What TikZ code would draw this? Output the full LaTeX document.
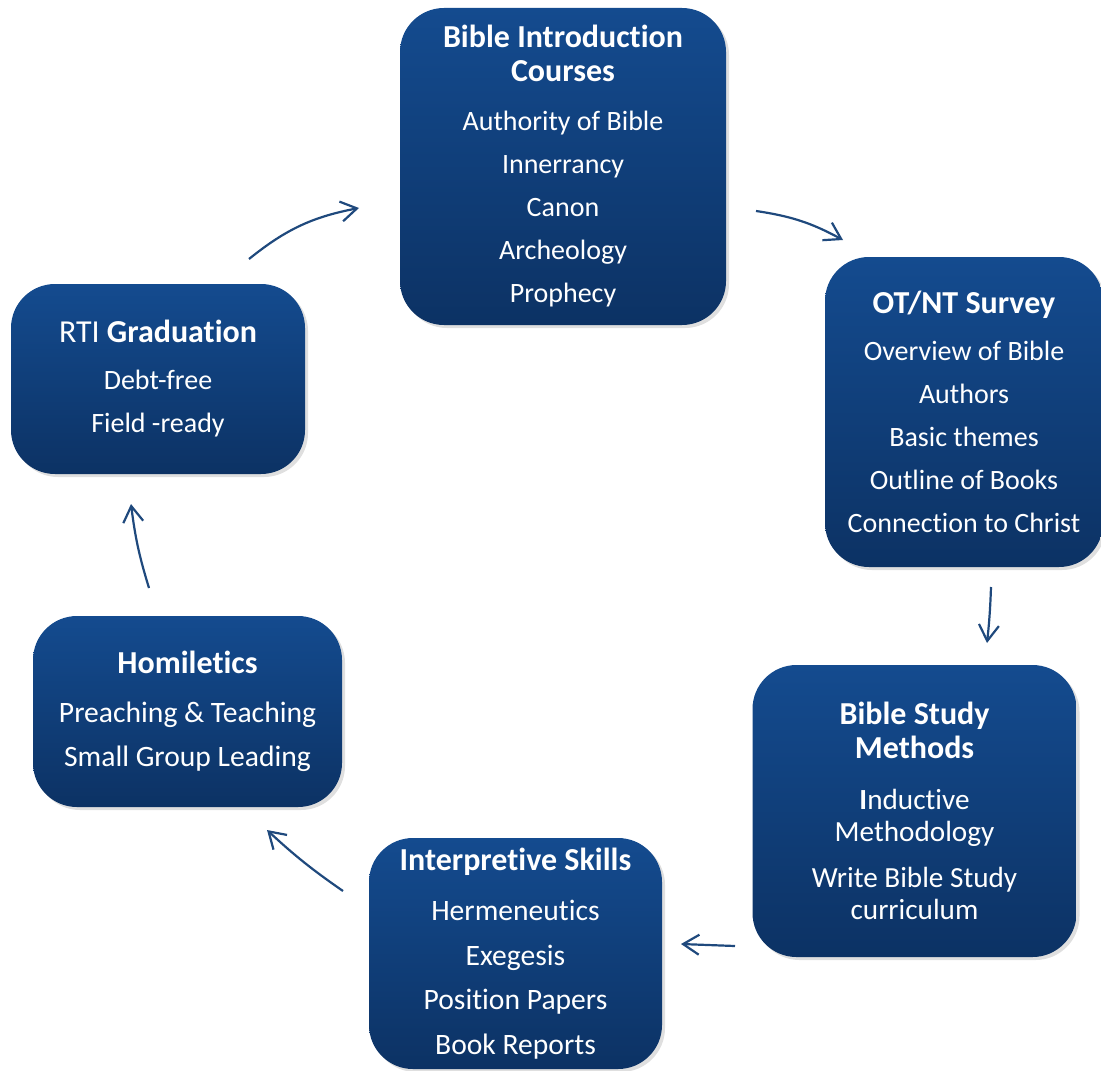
\documentclass[tikz,border=0pt]{standalone}
\usepackage{fontspec}
\setmainfont{Carlito}[RawFeature={-liga;-clig;-calt}]
\usepackage{xcolor}
\usepackage{tikz}
\usetikzlibrary{arrows.meta, shadows, positioning}
\definecolor{boxtop}{RGB}{20,75,143}
\definecolor{boxbottom}{RGB}{12,50,100}
\definecolor{flowblue}{RGB}{31,73,125}
\newcommand{\boxtitle}[1]{{\fontsize{16}{17}\selectfont\bfseries #1}}

\begin{document}
\begin{tikzpicture}[
    x=0.5pt, y=-0.5pt,
    course/.style={rectangle, rounded corners=22pt, top color=boxtop, bottom color=boxbottom,
        draw=none, text=white, align=center, inner sep=0pt,
        font=\fontsize{14}{16}\selectfont,
        drop shadow={opacity=0.25, shadow xshift=1.5pt, shadow yshift=-1.5pt}},
    flow/.style={draw=flowblue, line width=1.1pt, -{Straight Barb[length=8pt,width=10pt]}}
]
\useasboundingbox (0,0) rectangle (1101,1070);

% Nodes
\node (intro) [course, minimum width=163pt, minimum height=158.5pt] at (563,166.5)
    {\boxtitle{Bible Introduction}\\[1pt] \boxtitle{Courses}\\[8.5pt]
     Authority of Bible\\[5.5pt] Innerrancy\\[5.5pt] Canon\\[5.5pt] Archeology\\[5.5pt] Prophecy};
\node (survey) [course, minimum width=139pt, minimum height=155pt] at (964,412)
    {\boxtitle{OT/NT Survey}\\[7.5pt]
     Overview of Bible\\[5.5pt] Authors\\[5.5pt] Basic themes\\[5.5pt] Outline of Books\\[5.5pt] Connection to Christ};
\node (methods) [course, minimum width=162pt, minimum height=146pt,
    font=\fontsize{14.6}{16}\selectfont] at (914.5,811)
    {\boxtitle{Bible Study}\\[1pt] \boxtitle{Methods}\\[9.5pt]
     \textbf{I}nductive\\ Methodology\\[7pt] Write Bible Study\\ curriculum};
\node (skills) [course, minimum width=146.5pt, minimum height=115.5pt,
    font=\fontsize{14.8}{16}\selectfont] at (515.5,953.5)
    {\boxtitle{Interpretive Skills}\\[9pt]
     Hermeneutics\\[6.3pt] Exegesis\\[6.3pt] Position Papers\\[6.3pt] Book Reports};
\node (homiletics) [course, minimum width=154.5pt, minimum height=95.5pt,
    font=\fontsize{14.8}{16}\selectfont] at (187.5,711.5)
    {\boxtitle{Homiletics}\\[8.5pt]
     Preaching \& Teaching\\[6pt] Small Group Leading};
\node (grad) [course, minimum width=147pt, minimum height=95pt] at (158,379)
    {{\fontsize{16}{17}\selectfont RTI \textbf{Graduation}}\\[7.5pt]
     Debt-free\\[5.5pt] Field -ready};

% Arrow ends
\coordinate (grad-out) at (249,259);
\coordinate (intro-in) at (359,208);
\coordinate (intro-out) at (756,211);
\coordinate (survey-in) at (843,240);
\coordinate (survey-out) at (991,587);
\coordinate (methods-in) at (987,643);
\coordinate (methods-out) at (735,946);
\coordinate (skills-in) at (681,944);
\coordinate (skills-out) at (343,891);
\coordinate (homiletics-in) at (267,830);
\coordinate (homiletics-out) at (149,588);
\coordinate (grad-in) at (131,504);

% Edges
\draw [flow] (grad-out) to[bend left=14] (intro-in);
\draw [flow] (intro-out) to[bend left=10] (survey-in);
\draw [flow] (survey-out) to[bend left=2] (methods-in);
\draw [flow] (methods-out) to (skills-in);
\draw [flow] (skills-out) to[bend left=4] (homiletics-in);
\draw [flow] (homiletics-out) to[bend left=5] (grad-in);

\end{tikzpicture}
\end{document}
